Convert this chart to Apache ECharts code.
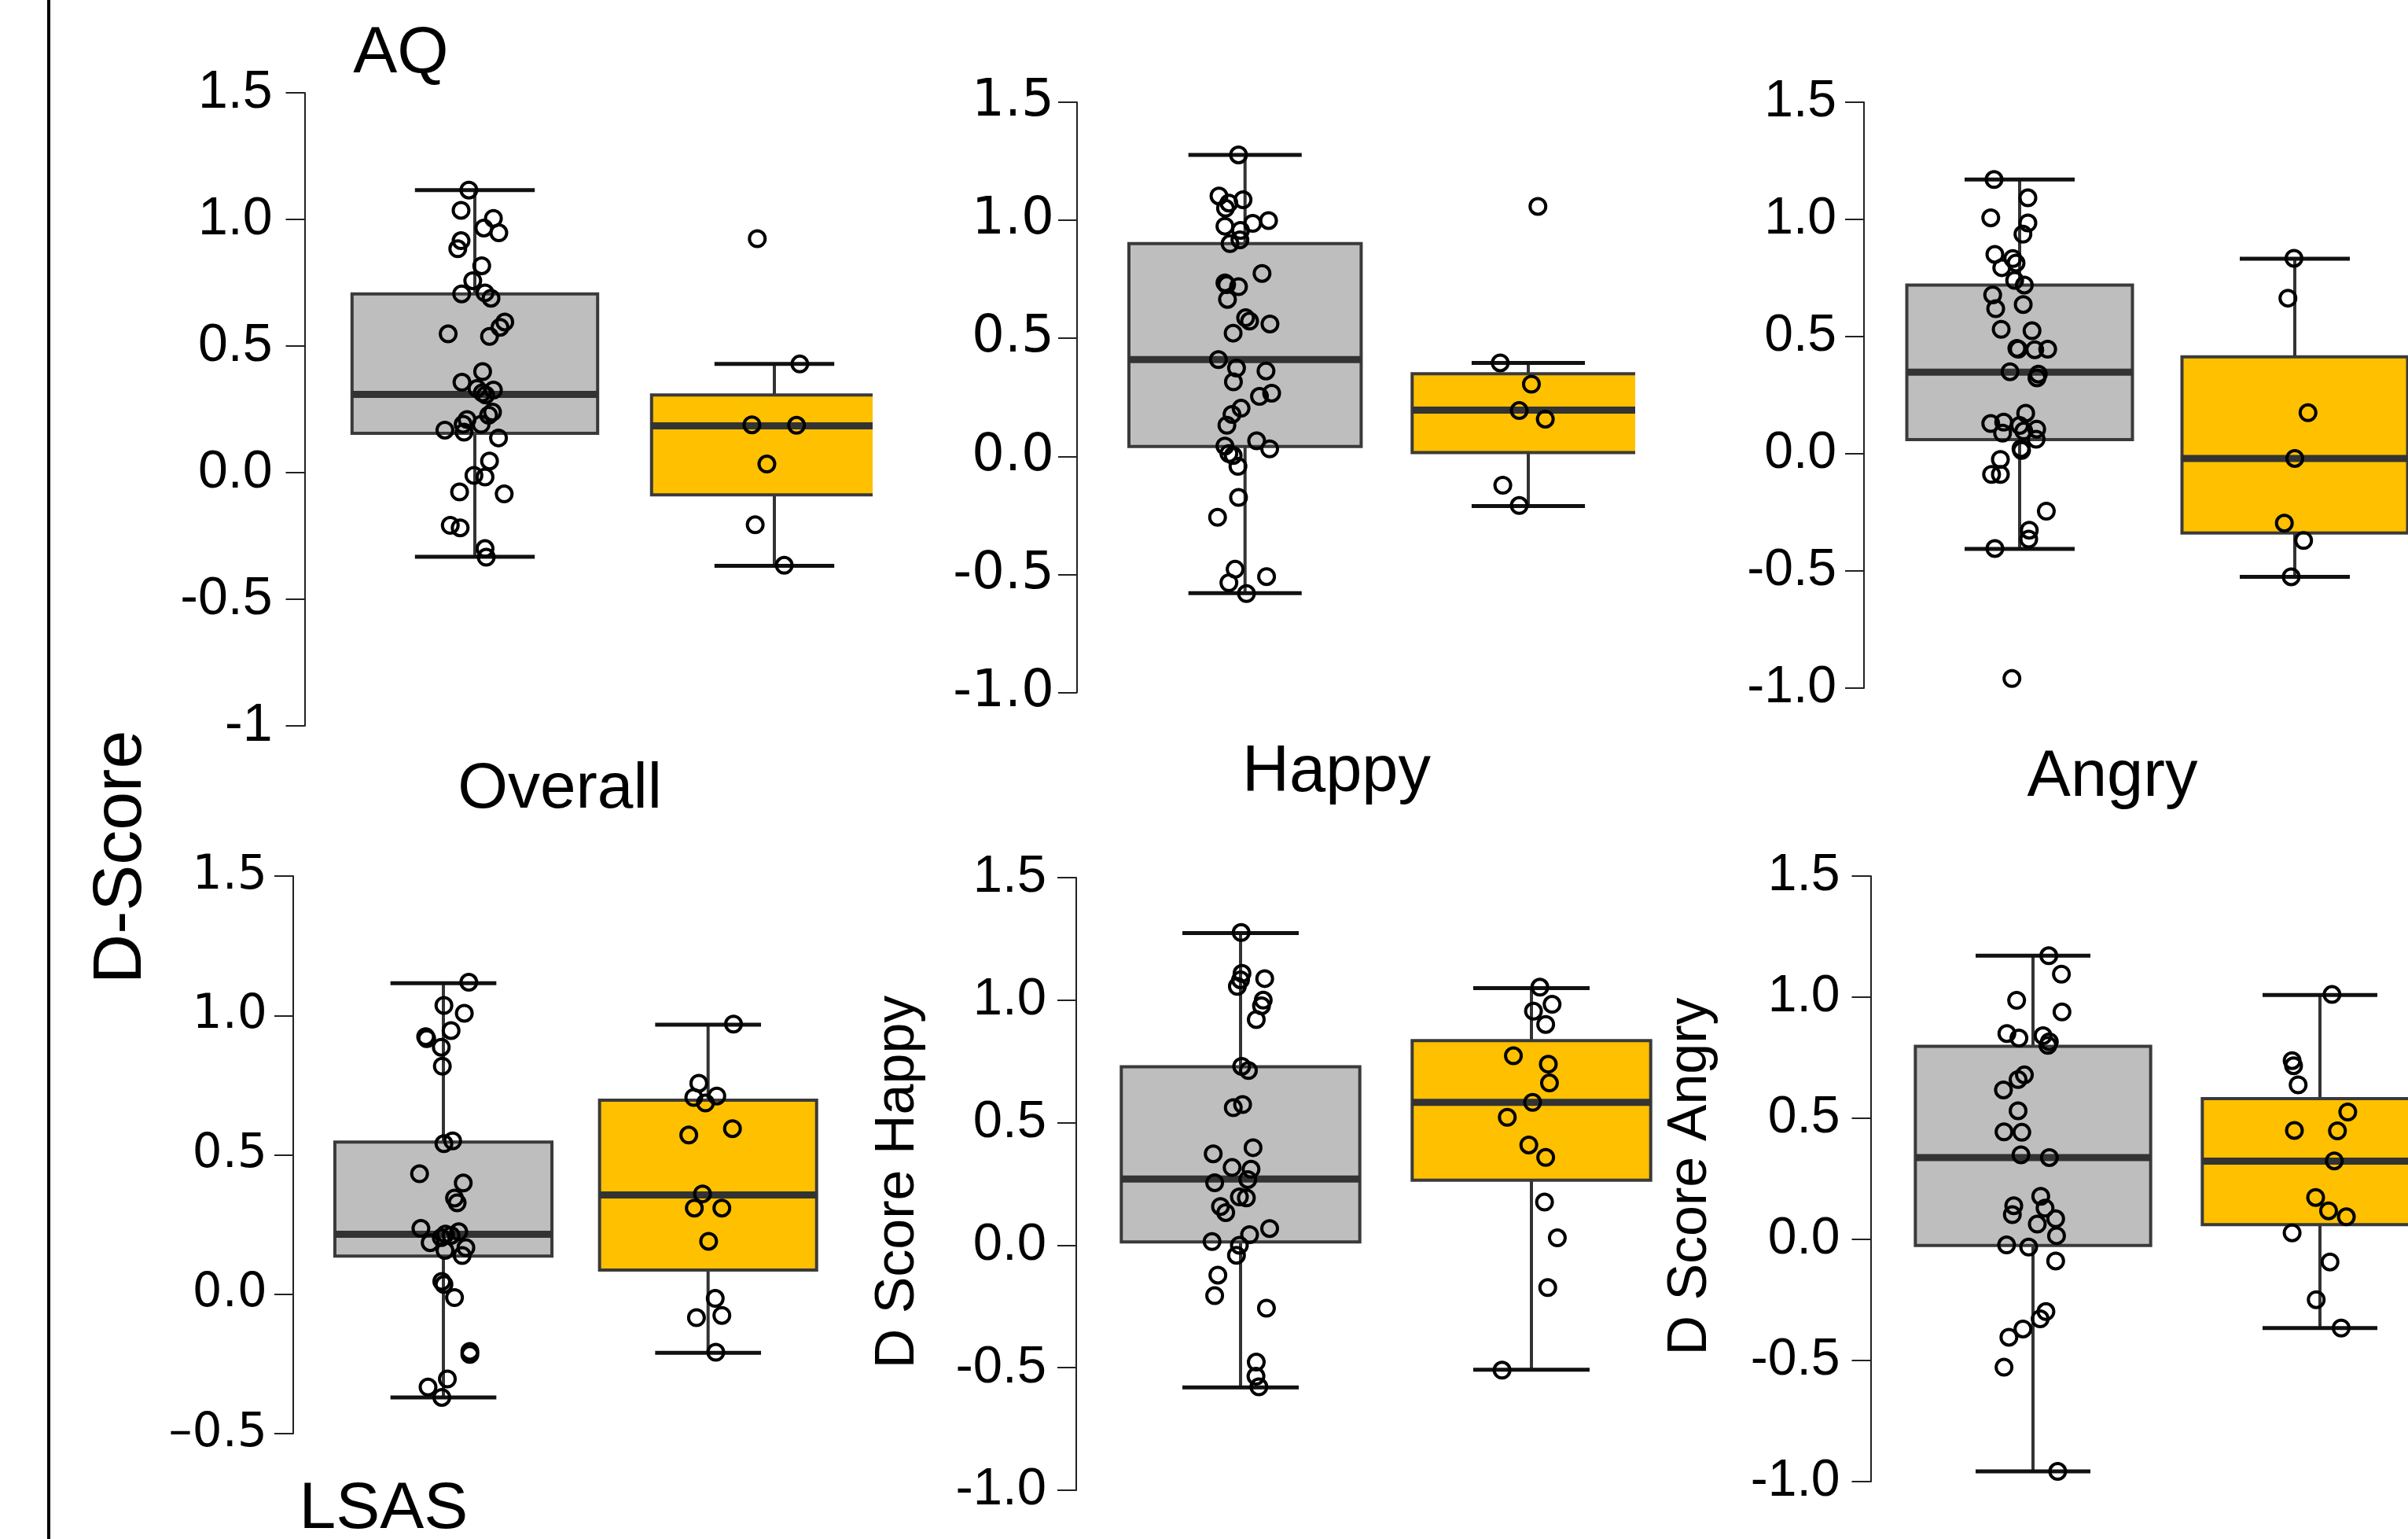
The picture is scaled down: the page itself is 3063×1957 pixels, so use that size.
<!DOCTYPE html>
<html>
<head>
<meta charset="utf-8">
<script src="https://cdn.jsdelivr.net/npm/echarts@6/dist/echarts.min.js"></script>
<style>
html, body { margin: 0; padding: 0; background: #fff; }
#chart { width: 3063px; height: 1957px; }
</style>
</head>
<body>
<div id="chart"></div>
<script>
// tick labels (as printed on each axis, bottom to top)
const ticksAqOverall = ['-1', '-0.5', '0.0', '0.5', '1.0', '1.5'];
const ticksFull = ['-1.0', '-0.5', '0.0', '0.5', '1.0', '1.5'];
const ticksLsasOverall = ['–0.5', '0.0', '0.5', '1.0', '1.5'];

// box stats: [min, Q1, median, Q3, max]
const aqOverallGreyBox = [-0.332, 0.155, 0.309, 0.706, 1.116];
const aqOverallGoldBox = [-0.368, -0.088, 0.185, 0.307, 0.429];
const aqHappyGreyBox = [-0.579, 0.042, 0.410, 0.901, 1.277];
const aqHappyGoldBox = [-0.210, 0.016, 0.196, 0.350, 0.396];
const aqAngryGreyBox = [-0.406, 0.060, 0.348, 0.720, 1.170];
const aqAngryGoldBox = [-0.525, -0.338, -0.020, 0.414, 0.832];
const lsasOverallGreyBox = [-0.370, 0.137, 0.215, 0.546, 1.116];
const lsasOverallGoldBox = [-0.210, 0.087, 0.356, 0.696, 0.967];
const lsasHappyGreyBox = [-0.580, 0.013, 0.270, 0.728, 1.274];
const lsasHappyGoldBox = [-0.508, 0.265, 0.583, 0.835, 1.049];
const lsasAngryGreyBox = [-0.958, -0.025, 0.338, 0.797, 1.171];
const lsasAngryGoldBox = [-0.366, 0.061, 0.323, 0.581, 1.009];

// individual points: [jitter, D-score]
const aqOverallGreyPts = [
  [-0.02, 1.116], [-0.046, 1.036], [0.062, 1.004], [0.03, 0.966], [0.08, 0.947], [-0.046, 0.916],
  [-0.057, 0.884], [0.023, 0.817], [-0.007, 0.758], [-0.044, 0.706], [0.034, 0.710], [0.054, 0.689],
  [0.10, 0.595], [0.084, 0.574], [-0.089, 0.548], [0.049, 0.538], [0.026, 0.399], [-0.043, 0.357],
  [0.007, 0.332], [0.062, 0.326], [0.025, 0.315], [0.036, 0.307], [0.059, 0.239], [0.046, 0.227],
  [-0.026, 0.210], [-0.039, 0.191], [-0.10, 0.168], [0.021, 0.191], [-0.036, 0.160], [0.079, 0.137],
  [0.049, 0.046], [-0.003, -0.011], [0.034, -0.017], [-0.051, -0.076], [0.098, -0.084], [-0.082, -0.208],
  [-0.049, -0.218], [0.034, -0.300], [0.038, -0.334]
];
const aqOverallGoldPts = [
  [-0.057, 0.924], [0.085, 0.429], [-0.075, 0.189], [0.074, 0.187], [-0.025, 0.034], [-0.064, -0.206], [0.033, -0.366]
];
const aqHappyGreyPts = [
  [-0.023, 1.277], [-0.092, 1.103], [-0.007, 1.087], [-0.057, 1.073], [-0.069, 1.051], [0.083, 0.999],
  [0.027, 0.987], [-0.071, 0.975], [-0.016, 0.957], [-0.018, 0.917], [-0.053, 0.901], [0.06, 0.775],
  [-0.071, 0.735], [-0.065, 0.727], [-0.023, 0.719], [-0.062, 0.665], [0.002, 0.587], [0.016, 0.573],
  [0.088, 0.561], [-0.042, 0.522], [-0.094, 0.410], [-0.03, 0.374], [0.074, 0.362], [-0.041, 0.316],
  [0.094, 0.268], [0.051, 0.254], [-0.014, 0.204], [-0.046, 0.178], [-0.064, 0.132], [0.041, 0.066],
  [-0.071, 0.044], [0.087, 0.032], [-0.057, 0.012], [-0.042, 0.004], [-0.025, -0.042], [-0.023, -0.174],
  [-0.097, -0.258], [-0.035, -0.478], [0.076, -0.509], [-0.057, -0.535], [0.005, -0.581]
];
const aqHappyGoldPts = [
  [0.034, 1.059], [-0.099, 0.396], [0.011, 0.306], [-0.032, 0.194], [0.06, 0.158], [-0.09, -0.122], [-0.032, -0.208]
];
const aqAngryGreyPts = [
  [-0.093, 1.170], [0.03, 1.092], [-0.105, 1.007], [0.03, 0.985], [0.012, 0.937], [-0.09, 0.851],
  [-0.025, 0.833], [-0.013, 0.814], [-0.065, 0.794], [-0.018, 0.740], [0.017, 0.720], [-0.098, 0.678],
  [-0.087, 0.619], [0.013, 0.637], [-0.067, 0.531], [0.045, 0.525], [-0.01, 0.450], [-0.005, 0.446],
  [0.055, 0.444], [0.102, 0.446], [-0.035, 0.350], [0.068, 0.340], [0.063, 0.324], [0.022, 0.173],
  [-0.105, 0.129], [-0.058, 0.135], [0, 0.121], [0.062, 0.105], [-0.062, 0.088], [0.015, 0.097],
  [0.06, 0.062], [0.005, 0.022], [0.007, 0.014], [-0.07, -0.024], [-0.102, -0.088], [-0.07, -0.088],
  [0.097, -0.245], [0.035, -0.326], [0.033, -0.364], [-0.09, -0.404], [-0.028, -0.959]
];
const aqAngryGoldPts = [
  [-0.003, 0.834], [-0.025, 0.664], [0.048, 0.175], [0, -0.020], [-0.038, -0.296], [0.032, -0.370], [-0.013, -0.525]
];
const lsasOverallGreyPts = [
  [0.096, 1.119], [0.002, 1.036], [0.079, 1.008], [0.029, 0.946], [-0.067, 0.924], [-0.063, 0.917],
  [-0.008, 0.886], [-0.004, 0.818], [0.035, 0.550], [0.002, 0.540], [-0.09, 0.432], [0.075, 0.399],
  [0.042, 0.345], [0.052, 0.328], [-0.085, 0.236], [0.058, 0.224], [0.008, 0.216], [0.029, 0.211],
  [-0.008, 0.203], [-0.05, 0.185], [0.085, 0.167], [0.006, 0.157], [0.071, 0.139], [-0.006, 0.046],
  [0.002, 0.035], [0.042, -0.012], [0.10, -0.205], [0.10, -0.216], [0.015, -0.304], [-0.058, -0.333],
  [-0.006, -0.370]
];
const lsasOverallGoldPts = [
  [0.096, 0.969], [-0.035, 0.757], [-0.054, 0.706], [0.033, 0.711], [-0.01, 0.686], [0.092, 0.594],
  [-0.073, 0.571], [-0.021, 0.360], [-0.052, 0.309], [0.052, 0.309], [0.002, 0.190], [0.027, -0.015],
  [-0.044, -0.084], [0.052, -0.076], [0.029, -0.208]
];
const lsasHappyGreyPts = [
  [0.002, 1.276], [0.005, 1.109], [0.083, 1.088], [0, 1.083], [-0.011, 1.056], [0.078, 1.000],
  [0.072, 0.977], [0.054, 0.921], [0.004, 0.730], [0.027, 0.713], [0.007, 0.574], [-0.025, 0.561],
  [0.043, 0.398], [-0.094, 0.373], [-0.029, 0.317], [0.036, 0.310], [-0.089, 0.255], [0.025, 0.268],
  [-0.004, 0.197], [0.02, 0.193], [-0.069, 0.158], [-0.051, 0.133], [0.10, 0.068], [0.031, 0.043],
  [-0.098, 0.015], [-0.004, 0.000], [-0.014, -0.041], [-0.078, -0.122], [-0.089, -0.206], [0.089, -0.257],
  [0.054, -0.477], [0.053, -0.535], [0.063, -0.578]
];
const lsasHappyGoldPts = [
  [0.029, 1.053], [0.071, 0.983], [0.007, 0.955], [0.049, 0.901], [-0.062, 0.773], [0.058, 0.739],
  [0.062, 0.662], [0.004, 0.583], [-0.083, 0.522], [-0.009, 0.409], [0.049, 0.358], [0.045, 0.176],
  [0.089, 0.030], [0.056, -0.173], [-0.101, -0.510]
];
const lsasAngryGreyPts = [
  [0.055, 1.171], [0.099, 1.095], [-0.057, 0.987], [0.101, 0.939], [-0.091, 0.850], [-0.049, 0.831],
  [0.035, 0.841], [0.057, 0.816], [0.052, 0.801], [-0.03, 0.679], [-0.052, 0.660], [-0.103, 0.617],
  [-0.052, 0.531], [-0.101, 0.444], [-0.039, 0.442], [-0.042, 0.349], [0.057, 0.338], [0.027, 0.178],
  [-0.067, 0.139], [0.042, 0.129], [-0.072, 0.102], [0.079, 0.085], [0.015, 0.063], [0.082, 0.015],
  [-0.092, -0.023], [-0.015, -0.032], [0.079, -0.089], [0.045, -0.298], [0.025, -0.328], [-0.035, -0.370],
  [-0.084, -0.404], [-0.101, -0.528], [0.086, -0.958]
];
const lsasAngryGoldPts = [
  [0.042, 1.011], [-0.097, 0.738], [-0.092, 0.717], [-0.076, 0.638], [0.097, 0.526], [-0.089, 0.450],
  [0.061, 0.448], [0.05, 0.324], [-0.015, 0.173], [0.03, 0.118], [0.092, 0.093], [-0.097, 0.027],
  [0.035, -0.093], [-0.013, -0.249], [0.074, -0.366]
];

// ---- layout ----
const GREY = '#bebebe';
const GOLD = '#ffc000';
const BOX_W = 0.82;
const CAP_W = 0.40;

const panels = [
  { box: [aqOverallGreyBox, aqOverallGoldBox], pts: [aqOverallGreyPts, aqOverallGoldPts], ticks: ticksAqOverall,
    axisX: 387.5, top: 118, bottom: 923, greyX: 604, goldX: 985, clipX: 1109, font: 'Liberation Sans', fontSize: 68, margin: 41 },
  { box: [aqHappyGreyBox, aqHappyGoldBox], pts: [aqHappyGreyPts, aqHappyGoldPts], ticks: ticksFull,
    axisX: 1370, top: 130, bottom: 880.6, greyX: 1583.7, goldX: 1944, clipX: 2080, font: 'DejaVu Sans', fontSize: 66, margin: 29 },
  { box: [aqAngryGreyBox, aqAngryGoldBox], pts: [aqAngryGreyPts, aqAngryGoldPts], ticks: ticksFull,
    axisX: 2371, top: 130, bottom: 875, greyX: 2569, goldX: 2919, clipX: 3063, font: 'Liberation Sans', fontSize: 66, margin: 35 },
  { box: [lsasOverallGreyBox, lsasOverallGoldBox], pts: [lsasOverallGreyPts, lsasOverallGoldPts], ticks: ticksLsasOverall,
    axisX: 373, top: 1114, bottom: 1823, greyX: 564, goldX: 900.7, clipX: 1100, font: 'DejaVu Sans', fontSize: 60, margin: 33 },
  { box: [lsasHappyGreyBox, lsasHappyGoldBox], pts: [lsasHappyGreyPts, lsasHappyGoldPts], ticks: ticksFull,
    axisX: 1369, top: 1116, bottom: 1895, greyX: 1578, goldX: 1948, clipX: 2150, font: 'Liberation Sans', fontSize: 67, margin: 38 },
  { box: [lsasAngryGreyBox, lsasAngryGoldBox], pts: [lsasAngryGreyPts, lsasAngryGoldPts], ticks: ticksFull,
    axisX: 2379.5, top: 1114, bottom: 1884, greyX: 2586, goldX: 2951, clipX: 3063, font: 'Liberation Sans', fontSize: 66, margin: 39 }
];

function renderBox(params, api) {
  const x = api.value(0);
  const pMin = api.coord([x, api.value(1)]);
  const pQ1 = api.coord([x, api.value(2)]);
  const pMed = api.coord([x, api.value(3)]);
  const pQ3 = api.coord([x, api.value(4)]);
  const pMax = api.coord([x, api.value(5)]);
  const half = api.size([BOX_W, 0])[0] / 2;
  const cap = api.size([CAP_W, 0])[0] / 2;
  const cx = pMin[0];
  const fill = Math.round(x) === 0 ? GREY : GOLD;
  const whisker = { stroke: '#333', lineWidth: 4 };
  const capStyle = { stroke: '#111', lineWidth: 5 };
  return {
    type: 'group',
    children: [
      { type: 'line', shape: { x1: cx, y1: pMax[1], x2: cx, y2: pQ3[1] }, style: whisker },
      { type: 'line', shape: { x1: cx, y1: pQ1[1], x2: cx, y2: pMin[1] }, style: whisker },
      { type: 'line', shape: { x1: cx - cap, y1: pMax[1], x2: cx + cap, y2: pMax[1] }, style: capStyle },
      { type: 'line', shape: { x1: cx - cap, y1: pMin[1], x2: cx + cap, y2: pMin[1] }, style: capStyle },
      { type: 'rect', shape: { x: cx - half, y: pQ3[1], width: half * 2, height: pQ1[1] - pQ3[1] },
        style: { fill: fill, stroke: '#3a3a3a', lineWidth: 4 } },
      { type: 'line', shape: { x1: cx - half, y1: pMed[1], x2: cx + half, y2: pMed[1] },
        style: { stroke: '#333', lineWidth: 9 } }
    ]
  };
}

const grid = [], xAxis = [], yAxis = [], series = [];
panels.forEach((p, i) => {
  const unit = p.goldX - p.greyX;
  const xMin = -(p.greyX - p.axisX) / unit;
  const xMax = xMin + (p.clipX - p.axisX) / unit;
  const yMin = p.ticks.length === 6 ? -1 : -0.5;
  grid.push({ left: p.axisX, top: p.top, width: p.clipX - p.axisX, height: p.bottom - p.top });
  xAxis.push({ gridIndex: i, type: 'value', min: xMin, max: xMax, show: false });
  yAxis.push({
    gridIndex: i, type: 'value', min: yMin, max: 1.5, interval: 0.5, position: 'left',
    axisLine: { show: true, onZero: false, lineStyle: { color: '#222', width: 2 } },
    axisTick: { show: true, length: 24, lineStyle: { color: '#222', width: 2 } },
    splitLine: { show: false },
    axisLabel: {
      color: '#000', fontFamily: p.font, fontSize: p.fontSize, margin: p.margin,
      formatter: (v) => p.ticks[Math.round((v - yMin) / 0.5)]
    }
  });
  series.push({
    type: 'custom', xAxisIndex: i, yAxisIndex: i, clip: true, z: 2,
    renderItem: renderBox,
    encode: { x: 0, y: [1, 2, 3, 4, 5] },
    data: p.box.map((b, g) => [g].concat(b))
  });
  p.pts.forEach((list, g) => {
    series.push({
      type: 'scatter', xAxisIndex: i, yAxisIndex: i, z: 5,
      symbol: 'circle', symbolSize: 20,
      itemStyle: { color: 'rgba(0,0,0,0)', borderColor: '#000', borderWidth: 4, opacity: 1 },
      data: list.map((pt) => [g + pt[0], pt[1]])
    });
  });
});

const titleFont = 'Liberation Sans, Arial, sans-serif';
function label(text, x, y, size, rot) {
  return {
    type: 'text', x: x, y: y, rotation: rot || 0, z: 10,
    style: { text: text, fontSize: size, fontFamily: titleFont, fill: '#000', align: 'center', verticalAlign: 'middle' }
  };
}

const chart = echarts.init(document.getElementById('chart'));
chart.setOption({
  animation: false,
  backgroundColor: '#fff',
  grid: grid,
  xAxis: xAxis,
  yAxis: yAxis,
  series: series,
  graphic: [
    { type: 'rect', shape: { x: 60, y: 0, width: 4, height: 1957 }, style: { fill: '#000' }, z: 10 },
    label('AQ', 510, 69, 84),
    label('Overall', 712, 1004, 82),
    label('Happy', 1700, 983, 83),
    label('Angry', 2687, 989, 83),
    label('LSAS', 488, 1920, 84),
    label('D-Score', 155, 1090, 88, Math.PI / 2),
    label('D Score Happy', 1143, 1503, 70, Math.PI / 2),
    label('D Score Angry', 2151, 1496, 70, Math.PI / 2)
  ]
});
</script>
</body>
</html>
